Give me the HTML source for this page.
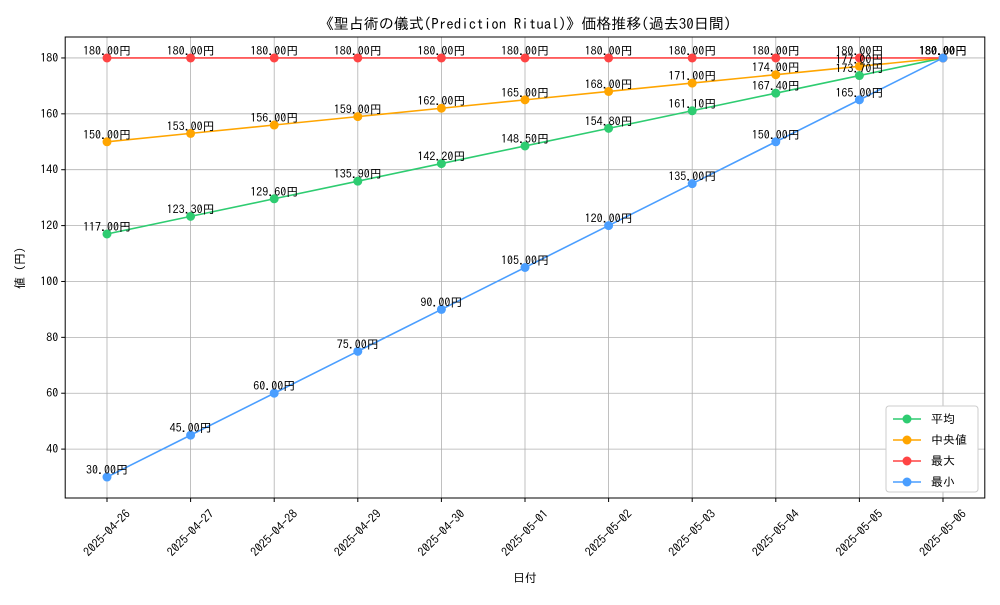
<!DOCTYPE html>
<html><head><meta charset="utf-8"><style>
body{margin:0;background:#fff;}
svg text{font-family:"IPAGothic","Liberation Sans","Noto Sans CJK JP",sans-serif;}
</style></head><body>
<svg id="chart" width="1000" height="600" xmlns="http://www.w3.org/2000/svg">
<rect width="1000" height="600" fill="#fff"/>
<text x="525" y="29" text-anchor="middle" font-size="15">《聖占術の儀式(Prediction Ritual)》価格推移(過去30日間)</text>
<g id="grid"></g><g id="series"></g><g id="labels"></g>
<rect x="65.2" y="37" width="919.6" height="461" fill="none" stroke="#000" stroke-width="1"/>
<g id="axes"></g>
<text x="525" y="582" text-anchor="middle" font-size="12">日付</text>
<text x="24" y="268" text-anchor="middle" font-size="12" transform="rotate(-90 24 268)">値 (円)</text>
<g id="legend"></g>
</svg>
<script>
const categories=["2025-04-26","2025-04-27","2025-04-28","2025-04-29","2025-04-30","2025-05-01","2025-05-02","2025-05-03","2025-05-04","2025-05-05","2025-05-06"];
const avgValues=[117.0,123.3,129.6,135.9,142.2,148.5,154.8,161.1,167.4,173.7,180.0];
const medianValues=[150,153,156,159,162,165,168,171,174,177,180];
const maxValues=[180,180,180,180,180,180,180,180,180,180,180];
const minValues=[30,45,60,75,90,105,120,135,150,165,180];
const yTicks=[40,60,80,100,120,140,160,180];
const seriesNames=["平均","中央値","最大","最小"];
const NS="http://www.w3.org/2000/svg";
const L=65.2,R=984.8,T=37,B=498,ymin=22.5,ymax=187.5;
const xs=i=>L+(i+0.5)*(R-L)/categories.length;
const ys=v=>B-(v-ymin)/(ymax-ymin)*(B-T);
function mk(tag,attrs,parent){const e=document.createElementNS(NS,tag);for(const k in attrs)e.setAttribute(k,attrs[k]);parent.appendChild(e);return e;}
const grid=document.getElementById('grid'),axes=document.getElementById('axes');
categories.forEach((c,i)=>{
 const g=mk('line',{x1:xs(i),x2:xs(i),y1:T,y2:B,stroke:'#b0b0b0','stroke-width':0.8},grid);
 
 
 mk('line',{x1:xs(i),x2:xs(i),y1:B,y2:B+4,stroke:'#000'},axes);
 const cy=B+35;
 const t=mk('text',{x:xs(i),y:cy+4,'font-size':12,'text-anchor':'middle',transform:`rotate(-45 ${xs(i)} ${cy})`},axes);
 t.textContent=c;
 
 
});
yTicks.forEach(v=>{
 const g=mk('line',{x1:L,x2:R,y1:ys(v),y2:ys(v),stroke:'#b0b0b0','stroke-width':0.8},grid);
 
 
 mk('line',{x1:L-4,x2:L,y1:ys(v),y2:ys(v),stroke:'#000'},axes);
 const t=mk('text',{x:L-7,y:ys(v)+4,'font-size':12,'text-anchor':'end'},axes);
 t.textContent=v;
 
 
});
const all=[avgValues,medianValues,maxValues,minValues];
const colors=["#2ecc71","#ffa500","#ff4444","#4a9eff"];
const keys=["avg","median","max","min"];
const sg=document.getElementById('series'),lg=document.getElementById('labels');
all.forEach((vals,s)=>{
 const p=mk('polyline',{points:vals.map((v,i)=>xs(i)+','+ys(v)).join(' '),fill:'none',stroke:colors[s],'stroke-width':1.6},sg);
 
 
 vals.forEach((v,i)=>{
  const c=mk('circle',{cx:xs(i),cy:ys(v),r:4.5,fill:colors[s]},sg);
  
  
  const t=mk('text',{x:xs(i),y:ys(v)-3,'font-size':12,'text-anchor':'middle'},lg);
  t.textContent=v.toFixed(2)+'円';
  
  
 });
});
const leg=document.getElementById('legend');
const lb=mk('rect',{x:886,y:406,width:92,height:86,fill:'#fff',stroke:'#ccc',rx:3},leg);


seriesNames.forEach((n,s)=>{
 const y=419+s*21;
 const g=mk('g',{},leg);
 
 
 mk('line',{x1:893,x2:921,y1:y,y2:y,stroke:colors[s],'stroke-width':1.6},g);
 mk('circle',{cx:907,cy:y,r:4.5,fill:colors[s]},g);
 const t=mk('text',{x:931,y:y+4,'font-size':12},g);
 t.textContent=n;
});
</script>
</body></html>
